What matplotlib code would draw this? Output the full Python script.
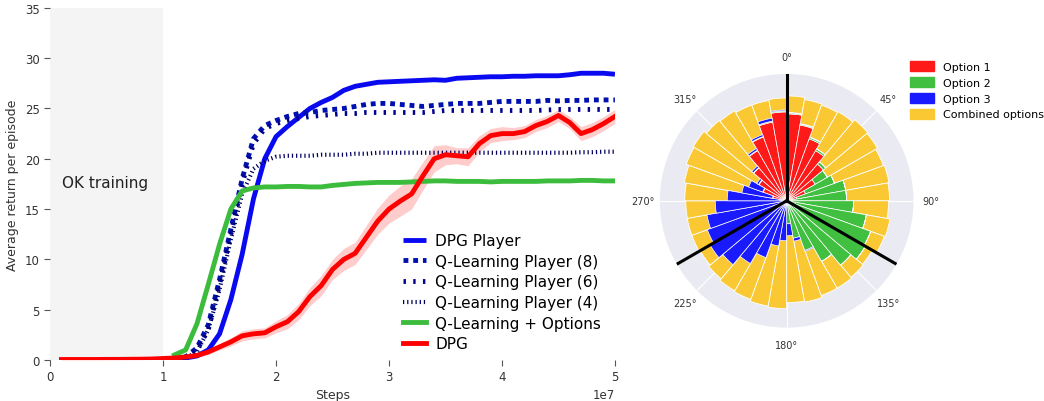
import numpy as np
import matplotlib
matplotlib.use("Agg")
import matplotlib.pyplot as plt
from matplotlib.patches import Patch

# ---- left panel: learning curves (x in units of 1e7 steps) ----
steps_dpg = np.round(np.arange(1, 51) * 0.1, 1) * 1e7
steps_q = np.round(np.arange(11, 51) * 0.1, 1) * 1e7

dpg = [0.05, 0.05, 0.05, 0.05, 0.06, 0.06, 0.07, 0.08, 0.10, 0.15,
       0.2, 0.3, 0.45, 0.8, 1.3, 1.8, 2.4, 2.6, 2.7, 3.3,
       3.8, 4.8, 6.3, 7.4, 9.0, 10.0, 10.6, 12.2, 13.8, 15.0,
       15.8, 16.5, 18.3, 20.0, 20.4, 20.3, 20.2, 21.5, 22.3, 22.5,
       22.5, 22.7, 23.3, 23.7, 24.3, 23.6, 22.5, 22.9, 23.5, 24.2]
dpg_err = [0.05] * 10 + [0.1, 0.15, 0.2, 0.25, 0.3, 0.4, 0.5, 0.5, 0.5, 0.6,
                         0.7, 0.8, 0.9, 1.0, 1.0, 1.1, 1.1, 1.2, 1.3, 1.4,
                         1.5, 1.5, 1.4, 1.3, 1.0, 0.8, 0.9, 0.8, 0.7, 0.7,
                         0.6, 0.6, 0.6, 0.6, 0.6, 0.6, 0.7, 0.7, 0.7, 0.7]

dpg_player = [0.1, 0.2, 0.4, 1.0, 2.6, 6.0, 10.5, 16.0, 20.0, 22.2,
              23.2, 24.1, 25.0, 25.6, 26.1, 26.8, 27.2, 27.4, 27.6, 27.65,
              27.7, 27.75, 27.8, 27.85, 27.8, 28.0, 28.05, 28.1, 28.15, 28.15,
              28.2, 28.2, 28.25, 28.25, 28.25, 28.35, 28.5, 28.5, 28.5, 28.4]
q8 = [0.1, 0.3, 1.2, 3.5, 8.0, 13.0, 18.0, 22.0, 23.3, 23.8,
      24.2, 24.5, 24.6, 24.8, 24.9, 25.0, 25.2, 25.4, 25.5, 25.5,
      25.4, 25.3, 25.2, 25.3, 25.4, 25.5, 25.5, 25.5, 25.6, 25.7,
      25.7, 25.7, 25.7, 25.8, 25.75, 25.8, 25.8, 25.85, 25.85, 25.85]
q6 = [0.1, 0.3, 1.0, 3.0, 7.5, 12.5, 17.5, 21.5, 23.0, 23.5,
      23.8, 24.0, 24.2, 24.3, 24.4, 24.5, 24.5, 24.6, 24.6, 24.6,
      24.6, 24.6, 24.6, 24.7, 24.8, 24.8, 24.8, 24.8, 24.8, 24.8,
      24.8, 24.8, 24.8, 24.85, 24.9, 24.9, 24.9, 24.9, 24.9, 24.9]
q4 = [0.1, 0.2, 0.8, 3.0, 7.0, 12.0, 16.5, 19.0, 19.8, 20.2,
      20.3, 20.3, 20.3, 20.4, 20.4, 20.4, 20.5, 20.5, 20.6, 20.6,
      20.6, 20.6, 20.6, 20.6, 20.6, 20.6, 20.6, 20.6, 20.6, 20.6,
      20.6, 20.6, 20.6, 20.6, 20.6, 20.6, 20.65, 20.65, 20.7, 20.7]
q_opt = [0.5, 1.0, 3.6, 7.5, 11.5, 15.0, 16.8, 17.1, 17.2, 17.2,
         17.25, 17.25, 17.2, 17.2, 17.35, 17.45, 17.55, 17.6, 17.65, 17.65,
         17.65, 17.7, 17.75, 17.8, 17.8, 17.75, 17.75, 17.75, 17.7, 17.75,
         17.75, 17.75, 17.75, 17.8, 17.8, 17.8, 17.85, 17.85, 17.8, 17.8]

# ---- right panel: option histograms, 36 bins of 10 deg, clockwise from north ----
opt1 = [87, 77, 66, 58, 48, 33, 20, 10, 5, 2, 1, 0.5,
        0, 0, 0, 0, 0, 0, 0, 0, 0, 0, 0, 0,
        0, 0.5, 2, 6, 14, 25, 32, 43, 58, 68, 80, 89]
opt2 = [1, 1, 1.5, 2, 3, 14, 31, 50, 55, 65, 80, 89,
        91, 84, 70, 53, 38, 23, 2, 1, 0.5, 0.5, 0.5, 0.5,
        0.5, 0.5, 0.5, 0.5, 0.5, 0.5, 0.5, 0.5, 0.5, 0.5, 1, 1]
opt3 = [0.5, 0.5, 0.5, 0, 0, 0, 0, 0, 0, 0, 0, 0,
        0, 0, 0, 1, 3, 12, 38, 45, 60, 72, 83, 88,
        84, 80, 69, 53, 31, 15, 2, 2, 2, 2, 3, 1]
combined = [105, 103, 102, 103, 106, 105, 103, 104, 103, 102, 105, 104,
            99, 100, 101, 101, 103, 102, 108, 107, 105, 104, 102, 100,
            101, 101, 101, 102, 104, 107, 108, 105, 104, 102, 102, 103]
rmax = 127
option_bounds = [0, 120, 240]

fig = plt.figure(figsize=(10.44, 4.02), dpi=100)

ax = fig.add_axes([0.048, 0.102, 0.541, 0.876])
ax.axvspan(0, 1e7, color="#F4F4F4", zorder=0, lw=0)
ax.text(0.106e7, 17.6, "OK training", fontsize=11, va="center", color="#222222")

ax.plot(steps_q, dpg_player, color="#0A0AF0", lw=3.5, label="DPG Player", solid_capstyle="butt")
ax.plot(steps_q, q8, color="#0010B0", lw=3.5, ls=(0, (1, 1)), label="Q-Learning Player (8)")
ax.plot(steps_q, q6, color="#000090", lw=3.5, ls=(0, (0.5, 1.5)), label="Q-Learning Player (6)")
ax.plot(steps_q, q4, color="#000060", lw=3.0, ls=(0, (0.3, 0.7)), label="Q-Learning Player (4)")
ax.plot(steps_q, q_opt, color="#3CBC3C", lw=3.5, label="Q-Learning + Options")
lo = np.array(dpg) - np.array(dpg_err)
hi = np.array(dpg) + np.array(dpg_err)
ax.fill_between(steps_dpg, lo, hi, color="#FF0000", alpha=0.2, lw=0)
ax.plot(steps_dpg, dpg, color="#FF0000", lw=3.5, label="DPG")

ax.set_xlim(0, 5e7)
ax.set_ylim(0, 35)
ax.set_yticks(range(0, 36, 5))
for s in ax.spines.values():
    s.set_visible(False)
ax.tick_params(direction="out", length=4, color="#555555", labelsize=8.5, labelcolor="#333333")
ax.set_xlabel("Steps", fontsize=9, color="#333333", labelpad=3)
ax.set_ylabel("Average return per episode", fontsize=9, color="#333333")
ax.xaxis.get_offset_text().set_fontsize(8.5)
ax.legend(loc="lower right", bbox_to_anchor=(1.0, -0.014), frameon=False, fontsize=11,
          handlelength=1.5, handletextpad=0.6, labelspacing=0.37)

# polar panel
pax = fig.add_axes([0.632, 0.182, 0.243, 0.632], projection="polar")
pax.set_theta_zero_location("N")
pax.set_theta_direction(-1)
pax.set_facecolor("#EAEAF2")
pax.set_axisbelow(True)
edges = np.deg2rad(np.arange(36) * 10)
w = np.deg2rad(10)
b2 = np.array(opt1)
b3 = b2 + np.array(opt2)
pax.bar(edges, combined, width=w, align="edge", color="#FAC832", edgecolor="white", lw=0.6)
pax.bar(edges, opt1, width=w, align="edge", color="#FF1A1A", edgecolor="white", lw=0.5)
pax.bar(edges, opt2, width=w, bottom=b2, align="edge", color="#40BF40", edgecolor="white", lw=0.5)
pax.bar(edges, opt3, width=w, bottom=b3, align="edge", color="#1A1AFF", edgecolor="white", lw=0.5)
for a in option_bounds:
    pax.plot([np.deg2rad(a)] * 2, [0, rmax], color="black", lw=2.2, zorder=5)
pax.set_ylim(0, rmax)
pax.set_yticks([])
pax.set_xticks(np.deg2rad(np.arange(0, 360, 45)))
pax.set_xticklabels([f"{d}°" for d in range(0, 360, 45)])
pax.tick_params(axis="x", labelsize=7, labelcolor="#333333", pad=2)
pax.grid(color="white", lw=0.8)
pax.spines["polar"].set_visible(False)

handles = [Patch(color="#FF1A1A"), Patch(color="#40BF40"), Patch(color="#1A1AFF"), Patch(color="#FAC832")]
fig.legend(handles, ["Option 1", "Option 2", "Option 3", "Combined options"],
           loc="upper left", bbox_to_anchor=(0.862, 0.87), frameon=False, fontsize=8,
           handlelength=2.2, handleheight=1.0, labelspacing=0.45)

fig.savefig("out.png", dpi=100)
